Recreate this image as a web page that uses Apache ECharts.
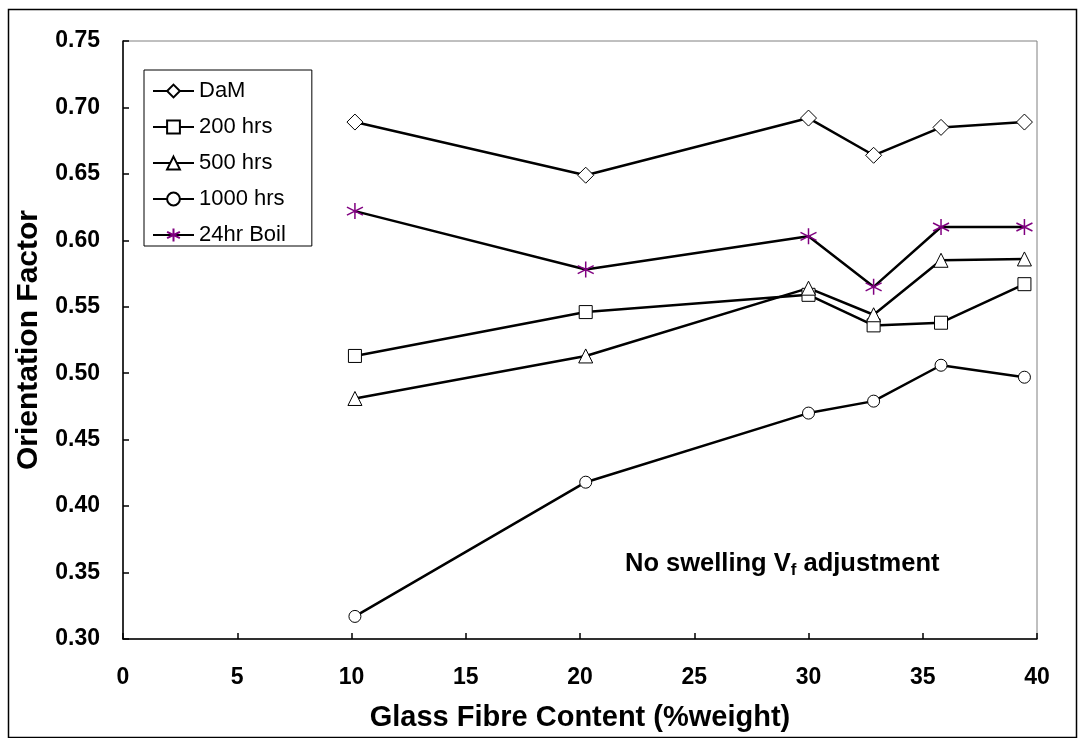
<!DOCTYPE html>
<html>
<head>
<meta charset="utf-8">
<script src="https://cdn.jsdelivr.net/npm/echarts@6/dist/echarts.min.js"></script>
<style>
  html, body { margin: 0; padding: 0; background: #fff; }
  #chart { width: 1081px; height: 738px; }
</style>
</head>
<body>
<div id="chart"></div>
<script>
// glass fibre content (%weight) shared by every series
const fibreContent = [10.15, 20.25, 30.0, 32.85, 35.8, 39.45];
// orientation factor per condition
const damValues = [0.689, 0.649, 0.692, 0.664, 0.685, 0.689];
const hrs200Values = [0.513, 0.546, 0.559, 0.536, 0.538, 0.567];
const hrs500Values = [0.481, 0.513, 0.564, 0.544, 0.585, 0.586];
const hrs1000Values = [0.317, 0.418, 0.470, 0.479, 0.506, 0.497];
const boilValues = [0.622, 0.578, 0.603, 0.565, 0.610, 0.610];
const seriesNames = ["DaM", "200 hrs", "500 hrs", "1000 hrs", "24hr Boil"];

const FONT = "Liberation Sans, Arial, sans-serif";
const asterisk = "path://M5,0L5,10M0.7,2.5L9.3,7.5M0.7,7.5L9.3,2.5";

const pair = (vals) => vals.map((v, i) => [fibreContent[i], v]);

const chart = echarts.init(document.getElementById("chart"));

function lineSeries(name, vals, symbol, size, extra) {
  return Object.assign({
    name: name,
    type: "line",
    data: pair(vals),
    symbol: symbol,
    symbolSize: size,
    showAllSymbol: true,
    lineStyle: { color: "#000", width: 2.5 },
    itemStyle: { color: "#fff", borderColor: "#000", borderWidth: 1 },
    z: 3,
  }, extra || {});
}

const option = {
  animation: false,
  backgroundColor: "#fff",
  textStyle: { fontFamily: FONT },
  grid: {
    left: 123,
    top: 41,
    right: 44,
    bottom: 99,
    show: true,
    borderColor: "#808080",
    borderWidth: 1,
  },
  legend: {
    orient: "vertical",
    left: 144,
    top: 70,
    padding: [10, 26, 0, 8],
    itemWidth: 41,
    itemHeight: 16,
    itemGap: 14,
    borderColor: "#000",
    borderWidth: 1,
    backgroundColor: "#fff",
    data: seriesNames,
    textStyle: { fontSize: 22, lineHeight: 20, color: "#000", fontFamily: FONT },
  },
  xAxis: {
    type: "value",
    min: 0,
    max: 40,
    interval: 5,
    name: "Glass Fibre Content (%weight)",
    nameLocation: "middle",
    nameGap: 64,
    nameTextStyle: { fontSize: 29, fontWeight: "bold", color: "#000", fontFamily: FONT },
    axisLine: { lineStyle: { color: "#000", width: 1.5 } },
    axisTick: { inside: true, length: 6, lineStyle: { color: "#000", width: 1.5 } },
    axisLabel: { fontSize: 23, fontWeight: "bold", color: "#000", margin: 27, fontFamily: FONT },
    splitLine: { show: false },
  },
  yAxis: {
    type: "value",
    min: 0.3,
    max: 0.75,
    interval: 0.05,
    name: "Orientation Factor",
    nameLocation: "middle",
    nameGap: 79,
    nameTextStyle: { fontSize: 30, fontWeight: "bold", color: "#000", fontFamily: FONT },
    axisLine: { lineStyle: { color: "#000", width: 1.5 } },
    axisTick: { inside: true, length: 6, lineStyle: { color: "#000", width: 1.5 } },
    axisLabel: {
      fontSize: 23,
      fontWeight: "bold",
      color: "#000",
      margin: 23,
      fontFamily: FONT,
      formatter: (v) => v.toFixed(2),
    },
    splitLine: { show: false },
  },
  graphic: [
    {
      type: "rect",
      left: 6,
      top: 7,
      shape: { width: 1068, height: 728 },
      style: { fill: "none", stroke: "#000", lineWidth: 1.5 },
      silent: true,
      z: -1,
    },
    {
      type: "text",
      left: 625,
      top: 551,
      style: {
        rich: {
          a: { fontSize: 25.5, fontWeight: "bold", fill: "#000", fontFamily: FONT },
          s: { fontSize: 17, fontWeight: "bold", fill: "#000", fontFamily: FONT, padding: [12, 0, 0, 0] },
        },
        text: "{a|No swelling V}{s|f}{a| adjustment}",
      },
    },
  ],
  series: [
    lineSeries(seriesNames[0], damValues, "diamond", 16),
    lineSeries(seriesNames[1], hrs200Values, "rect", 13),
    lineSeries(seriesNames[2], hrs500Values, "triangle", 14),
    lineSeries(seriesNames[3], hrs1000Values, "circle", 12),
    lineSeries(seriesNames[4], boilValues, asterisk, 16, {
      itemStyle: { color: "none", borderColor: "#800080", borderWidth: 1.5 },
    }),
  ],
};

chart.setOption(option);
</script>
</body>
</html>
